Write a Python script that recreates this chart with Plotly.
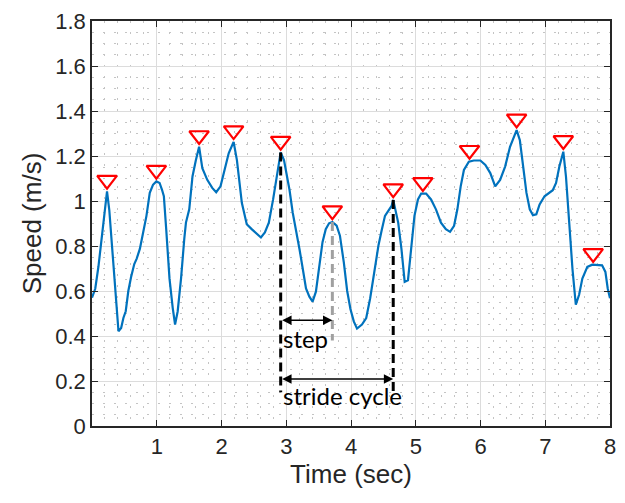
import numpy as np
import plotly.graph_objects as go

# Walking speed signal (time in s, speed in m/s)
time_s = [0.00, 0.05, 0.10, 0.155, 0.205, 0.232, 0.267, 0.308, 0.348, 0.384,
          0.409, 0.450, 0.485, 0.521, 0.561, 0.602, 0.653, 0.689, 0.739, 0.790,
          0.841, 0.892, 0.942, 0.994, 1.044, 1.080, 1.110, 1.146, 1.197, 1.247,
          1.283, 1.323, 1.375, 1.425, 1.451, 1.502, 1.552, 1.603, 1.654, 1.704,
          1.780, 1.857, 1.918, 1.985, 2.035, 2.111, 2.187, 2.238, 2.314, 2.390,
          2.466, 2.543, 2.609, 2.670, 2.731, 2.797, 2.863, 2.914, 2.965, 3.015,
          3.050, 3.100, 3.152, 3.204, 3.255, 3.305, 3.357, 3.407, 3.458, 3.509,
          3.560, 3.610, 3.661, 3.712, 3.778, 3.829, 3.890, 3.941, 3.991, 4.043,
          4.093, 4.169, 4.235, 4.296, 4.357, 4.424, 4.474, 4.525, 4.576, 4.627,
          4.652, 4.692, 4.729, 4.779, 4.829, 4.880, 4.930, 4.980, 5.034, 5.084,
          5.160, 5.236, 5.312, 5.389, 5.465, 5.530, 5.592, 5.643, 5.694, 5.744,
          5.820, 5.897, 5.998, 6.075, 6.151, 6.227, 6.303, 6.380, 6.456, 6.532,
          6.558, 6.608, 6.660, 6.710, 6.761, 6.810, 6.862, 6.913, 6.989, 7.066,
          7.116, 7.167, 7.218, 7.279, 7.320, 7.370, 7.420, 7.472, 7.523, 7.573,
          7.650, 7.726, 7.828, 7.878, 7.929, 7.965, 8.000]
speed = [0.570, 0.610, 0.710, 0.860, 0.990, 1.043, 0.960, 0.800, 0.630, 0.480,
         0.421, 0.436, 0.480, 0.510, 0.600, 0.660, 0.720, 0.743, 0.787, 0.860,
         0.934, 1.036, 1.072, 1.087, 1.080, 1.051, 1.021, 0.875, 0.655, 0.524,
         0.451, 0.509, 0.655, 0.831, 0.904, 0.963, 1.109, 1.180, 1.241, 1.146,
         1.094, 1.058, 1.039, 1.065, 1.124, 1.212, 1.263, 1.182, 0.992, 0.897,
         0.875, 0.853, 0.838, 0.860, 0.904, 1.007, 1.124, 1.216, 1.182, 1.110,
         1.050, 0.948, 0.875, 0.787, 0.699, 0.611, 0.575, 0.553, 0.597, 0.714,
         0.817, 0.875, 0.901, 0.907, 0.890, 0.846, 0.725, 0.600, 0.520, 0.465,
         0.433, 0.451, 0.480, 0.568, 0.685, 0.802, 0.870, 0.934, 0.956, 0.978,
         1.005, 0.948, 0.904, 0.787, 0.641, 0.648, 0.787, 0.934, 1.007, 1.033,
         1.033, 1.007, 0.963, 0.904, 0.875, 0.863, 0.890, 0.963, 1.065, 1.138,
         1.175, 1.180, 1.180, 1.160, 1.124, 1.065, 1.094, 1.153, 1.241, 1.300,
         1.315, 1.270, 1.153, 1.036, 0.963, 0.937, 0.941, 0.985, 1.021, 1.039,
         1.048, 1.080, 1.153, 1.219, 1.109, 0.904, 0.699, 0.539, 0.583, 0.655,
         0.707, 0.717, 0.717, 0.714, 0.685, 0.611, 0.568]

# Detected speed peaks (times in s)
peak_times = [0.232, 0.994, 1.654, 2.187, 2.914, 3.712, 4.652, 5.110, 5.830,
              6.558, 7.279, 7.740]

# Gait phase markers: indices into peak_times
STEP_START, STEP_END, STRIDE_END = 4, 5, 6
step_arrow_y = 0.47
stride_arrow_y = 0.209
stride_line_bottom = 0.15
step_line_bottom = 0.38

x_ticks = [1, 2, 3, 4, 5, 6, 7, 8]
y_ticks = [0, 0.2, 0.4, 0.6, 0.8, 1, 1.2, 1.4, 1.6, 1.8]

peak_vals = list(np.interp(peak_times, time_s, speed))
marker_lift = 0.05  # keeps the triangle tip just above each peak

AX = "#262626"
fig = go.Figure()

fig.add_trace(go.Scatter(x=time_s, y=speed, mode="lines",
                         line=dict(color="#0072BD", width=2.2),
                         showlegend=False, hoverinfo="skip"))

t0, t1, t2 = peak_times[STEP_START], peak_times[STEP_END], peak_times[STRIDE_END]
v0, v1, v2 = peak_vals[STEP_START], peak_vals[STEP_END], peak_vals[STRIDE_END]

fig.add_trace(go.Scatter(x=[t1, t1], y=[v1, step_line_bottom], mode="lines",
                         line=dict(color="#a0a0a0", width=3, dash="9px,5px"),
                         showlegend=False, hoverinfo="skip"))
for tt, vv in ((t0, v0), (t2, v2)):
    fig.add_trace(go.Scatter(x=[tt, tt], y=[vv, stride_line_bottom], mode="lines",
                             line=dict(color="black", width=3, dash="9px,5px"),
                             showlegend=False, hoverinfo="skip"))

fig.add_trace(go.Scatter(x=peak_times, y=[v + marker_lift for v in peak_vals],
                         mode="markers",
                         marker=dict(symbol="triangle-down-open", size=17,
                                     color="#ff0000", line=dict(width=2.2, color="#ff0000")),
                         showlegend=False, hoverinfo="skip"))

# double-headed arrows for step and stride cycle
for x_end, y_arr in ((t1, step_arrow_y), (t2, stride_arrow_y)):
    fig.add_annotation(x=x_end, y=y_arr, ax=t0, ay=y_arr, xref="x", yref="y",
                       axref="x", ayref="y", text="", showarrow=True,
                       arrowhead=2, arrowside="end+start", arrowsize=1.25,
                       arrowwidth=1.5, arrowcolor="black", standoff=0,
                       startstandoff=0)

fig.add_annotation(x=t0, y=0.39, xref="x", yref="y", text="step",
                   showarrow=False, xanchor="left", yanchor="middle", xshift=0,
                   font=dict(family="Lato", size=24, color="black"))
fig.add_annotation(x=t0, y=0.135, xref="x", yref="y", text="stride cycle",
                   showarrow=False, xanchor="left", yanchor="middle", xshift=0,
                   font=dict(family="Lato", size=24, color="black"))

axis_common = dict(showline=True, linecolor=AX, linewidth=1.5, mirror="allticks",
                   ticks="inside", ticklen=6, tickwidth=1, tickcolor=AX,
                   showgrid=True, gridcolor="#dcdcdc", gridwidth=1,
                   zeroline=False,
                   tickfont=dict(family="Liberation Sans", size=22, color=AX),
                   title_font=dict(family="Liberation Sans", size=26, color=AX))

fig.update_xaxes(range=[0, 8], tickmode="array", tickvals=x_ticks,
                 title_text="Time (sec)", title_standoff=6,
                 minor=dict(tickmode="linear", tick0=0, dtick=0.2, showgrid=True,
                            gridcolor="#c4c4c4", griddash="2px,9px", gridwidth=1,
                            ticks=""),
                 **axis_common)
fig.update_yaxes(range=[0, 1.8], tickmode="array", tickvals=y_ticks,
                 ticktext=[f"{v:g}" for v in y_ticks],
                 title_text="Speed (m/s)", title_standoff=6,
                 minor=dict(tickmode="linear", tick0=0, dtick=0.05, showgrid=True,
                            gridcolor="#c4c4c4", griddash="2px,9px", gridwidth=1,
                            ticks=""),
                 **axis_common)

fig.update_layout(width=625, height=503,
                  margin=dict(l=92, r=9, t=16, b=77),
                  paper_bgcolor="white", plot_bgcolor="white")

fig.write_html("out.html")
